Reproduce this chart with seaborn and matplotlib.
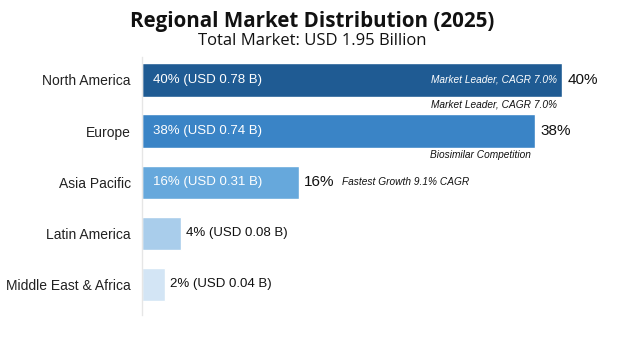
import matplotlib
matplotlib.use("Agg")
import matplotlib.pyplot as plt
import seaborn as sns
import pandas as pd

regions = ["North America", "Europe", "Asia Pacific", "Latin America", "Middle East & Africa"]
bar_share = [40.0, 37.4, 14.9, 3.7, 2.2]          # bar lengths as drawn (%)
share_labels = ["40%", "38%", "16%", "4%", "2%"]
usd_labels = ["USD 0.78 B", "USD 0.74 B", "USD 0.31 B", "USD 0.08 B", "USD 0.04 B"]
colors = ["#1f5b93", "#3a84c6", "#66a8dc", "#a9cdeb", "#d3e5f5"]
notes = ["Market Leader, CAGR 7.0%", "Biosimilar Competition", "Fastest Growth 9.1% CAGR"]

sns.set_theme(style="white")
plt.rcParams["font.family"] = ["Liberation Sans", "DejaVu Sans"]

df = pd.DataFrame({"region": regions, "share": bar_share})

fig = plt.figure(figsize=(6.24, 3.48), dpi=100)
ax = fig.add_axes([142 / 624, 1 - 315 / 348, (600 - 142) / 624, (315 - 57) / 348])
sns.barplot(data=df, y="region", x="share", hue="region", palette=colors,
            saturation=1, orient="h", width=0.65, legend=False, ax=ax)

ax.set_xlim(0, 43.6)
ax.set_ylim(4.6, -0.45)
ax.set_xlabel("")
ax.set_ylabel("")
ax.set_xticks([])
ax.tick_params(axis="y", length=0, pad=8, labelsize=10, labelcolor="#222222")
for s in ["top", "right", "bottom"]:
    ax.spines[s].set_visible(False)
ax.spines["left"].set_color("#e6e6e6")
ax.spines["left"].set_linewidth(1.0)

for i, (v, sh, usd) in enumerate(zip(bar_share, share_labels, usd_labels)):
    if v > 10:
        ax.text(1.0, i, f"{sh} ({usd})", color="white", va="center", ha="left", fontsize=9.5)
        ax.text(v + 0.5, i, sh, color="#111111", va="center", ha="left", fontsize=11)
    else:
        ax.text(v + 0.5, i, f"{sh} ({usd})", color="#111111", va="center", ha="left", fontsize=9.5)

# annotations
ax.text(bar_share[0] - 0.5, 0, notes[0], color="white", style="italic",
        va="center", ha="right", fontsize=7.3)
ax.text(bar_share[0] - 0.5, 0.47, notes[0], color="#111111", style="italic",
        va="center", ha="right", fontsize=7.3)
ax.text(bar_share[1] - 0.4, 1.47, notes[1], color="#111111", style="italic",
        va="center", ha="right", fontsize=7.3)
ax.text(bar_share[2] + 4.1, 2, notes[2], color="#111111", style="italic",
        va="center", ha="left", fontsize=7.3)

fig.text(0.5, 1 - 21 / 348, "Regional Market Distribution (2025)", ha="center", va="center",
         fontsize=14.8, fontweight="bold", family=["Open Sans", "DejaVu Sans"], color="#111111")
fig.text(0.5, 1 - 41 / 348, "Total Market: USD 1.95 Billion", ha="center", va="center",
         fontsize=12, family=["Open Sans", "DejaVu Sans"], color="#111111")

fig.savefig("out.png", dpi=100, facecolor="white")
